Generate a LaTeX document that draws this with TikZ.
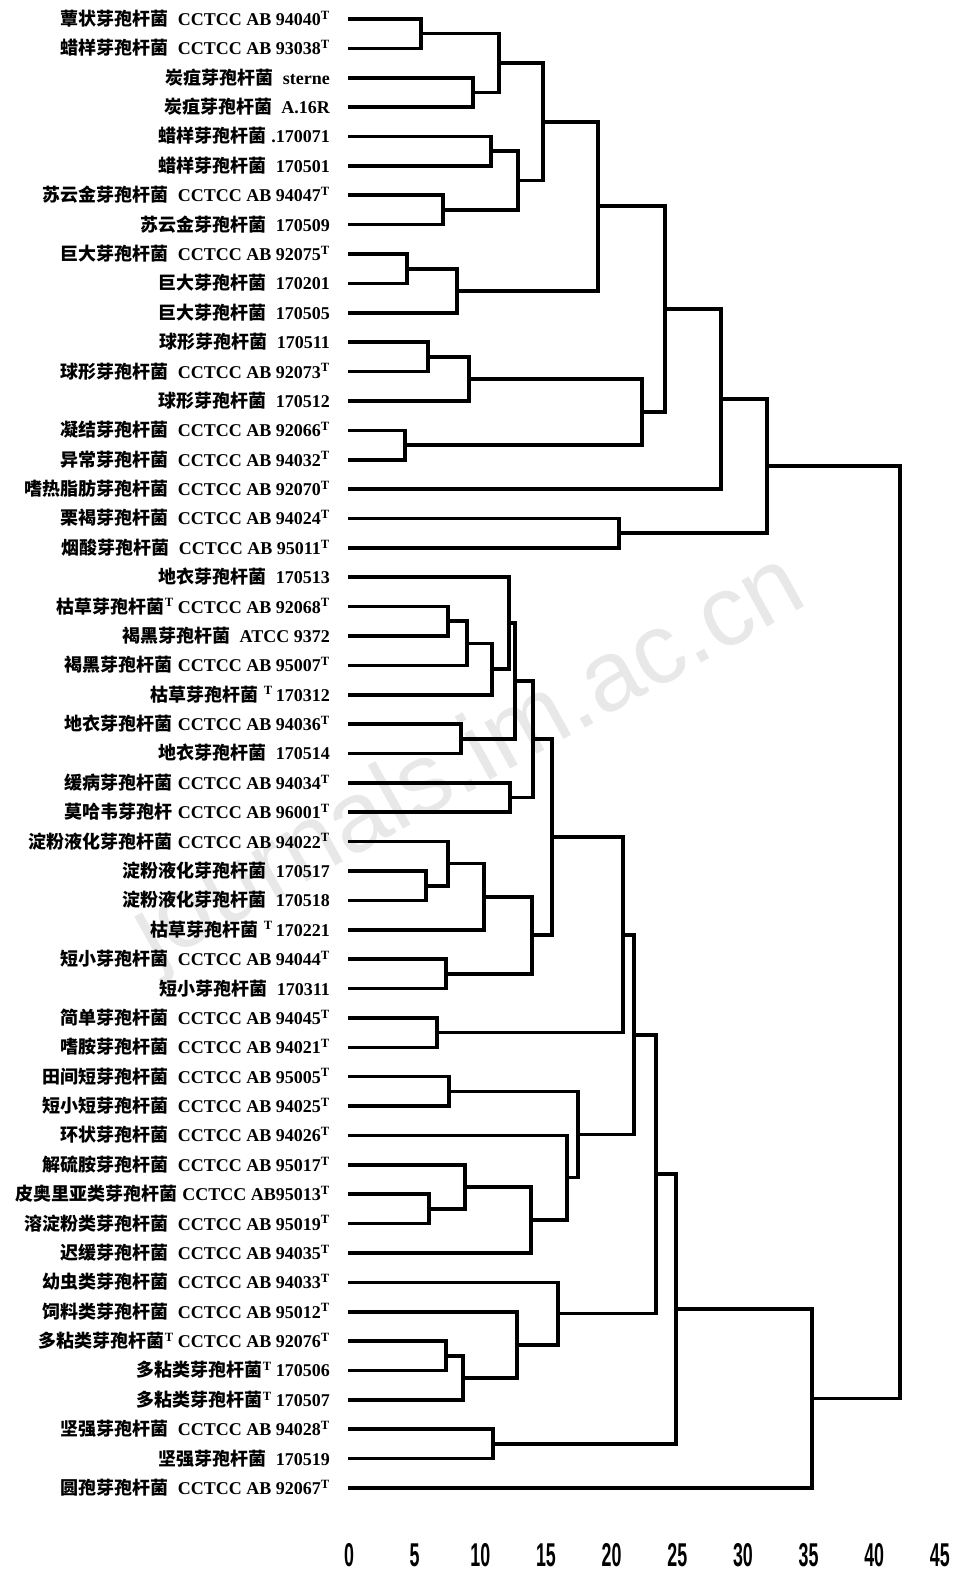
\documentclass[tikz,border=0pt]{standalone}
\usepackage{fontspec}
\usepackage{graphicx}
\setmainfont{Liberation Serif}
\setsansfont{Liberation Sans}
\newfontfamily\cjk{Noto Sans CJK SC}
\newcommand\cn[1]{{\cjk\bfseries #1}}
\newcommand\Tt{\textsuperscript{T}}
\newcommand\gp{\hspace{9pt}}
\tikzset{
  lbl/.style={anchor=base east, inner sep=0pt, font=\fontsize{18}{20}\selectfont\bfseries},
  dend/.style={line width=3.6pt, line join=miter, line cap=butt},
  ax/.style={anchor=base, inner sep=0pt, font=\sffamily\bfseries\fontsize{33}{36}\selectfont},
  wmark/.style={rotate=29, inner sep=0pt, text=black!9, font=\sffamily\fontsize{100}{104}\selectfont}
}
\newcommand\leafnode[2]{\node[lbl] (t#1) at (330,#1+0.22) {#2}; \coordinate (s#1) at (348,#1);}
\newcommand\mrg[3]{\draw[dend] (#2) -- (#2 -| #1) -- (#3 -| #1) -- (#3);}
\begin{document}
\begin{tikzpicture}[x=1pt,y=-29.38pt]
\useasboundingbox (0,0.3533) rectangle (954,53.791);
\node[wmark] (wm) at (470,26.3) {journals.im.ac.cn};
% leaves
\leafnode{1}{\cn{蕈状芽孢杆菌}\gp CCTCC AB 94040\Tt}
\leafnode{2}{\cn{蜡样芽孢杆菌}\gp CCTCC AB 93038\Tt}
\leafnode{3}{\cn{炭疽芽孢杆菌}\gp sterne}
\leafnode{4}{\cn{炭疽芽孢杆菌}\gp A.16R}
\leafnode{5}{\cn{蜡样芽孢杆菌}\hspace{5pt}.170071}
\leafnode{6}{\cn{蜡样芽孢杆菌}\gp 170501}
\leafnode{7}{\cn{苏云金芽孢杆菌}\gp CCTCC AB 94047\Tt}
\leafnode{8}{\cn{苏云金芽孢杆菌}\gp 170509}
\leafnode{9}{\cn{巨大芽孢杆菌}\gp CCTCC AB 92075\Tt}
\leafnode{10}{\cn{巨大芽孢杆菌}\gp 170201}
\leafnode{11}{\cn{巨大芽孢杆菌}\gp 170505}
\leafnode{12}{\cn{球形芽孢杆菌}\gp 170511}
\leafnode{13}{\cn{球形芽孢杆菌}\gp CCTCC AB 92073\Tt}
\leafnode{14}{\cn{球形芽孢杆菌}\gp 170512}
\leafnode{15}{\cn{凝结芽孢杆菌}\gp CCTCC AB 92066\Tt}
\leafnode{16}{\cn{异常芽孢杆菌}\gp CCTCC AB 94032\Tt}
\leafnode{17}{\cn{嗜热脂肪芽孢杆菌}\gp CCTCC AB 92070\Tt}
\leafnode{18}{\cn{栗褐芽孢杆菌}\gp CCTCC AB 94024\Tt}
\leafnode{19}{\cn{烟酸芽孢杆菌}\gp CCTCC AB 95011\Tt}
\leafnode{20}{\cn{地衣芽孢杆菌}\gp 170513}
\leafnode{21}{\cn{枯草芽孢杆菌}\Tt\hspace{4pt}CCTCC AB 92068\Tt}
\leafnode{22}{\cn{褐黑芽孢杆菌}\gp ATCC 9372}
\leafnode{23}{\cn{褐黑芽孢杆菌}\hspace{5pt}CCTCC AB 95007\Tt}
\leafnode{24}{\cn{枯草芽孢杆菌}\hspace{5pt}\Tt\hspace{3pt}170312}
\leafnode{25}{\cn{地衣芽孢杆菌}\hspace{5pt}CCTCC AB 94036\Tt}
\leafnode{26}{\cn{地衣芽孢杆菌}\gp 170514}
\leafnode{27}{\cn{缓病芽孢杆菌}\hspace{5pt}CCTCC AB 94034\Tt}
\leafnode{28}{\cn{莫哈韦芽孢杆}\hspace{5pt}CCTCC AB 96001\Tt}
\leafnode{29}{\cn{淀粉液化芽孢杆菌}\hspace{5pt}CCTCC AB 94022\Tt}
\leafnode{30}{\cn{淀粉液化芽孢杆菌}\gp 170517}
\leafnode{31}{\cn{淀粉液化芽孢杆菌}\gp 170518}
\leafnode{32}{\cn{枯草芽孢杆菌}\hspace{5pt}\Tt\hspace{3pt}170221}
\leafnode{33}{\cn{短小芽孢杆菌}\gp CCTCC AB 94044\Tt}
\leafnode{34}{\cn{短小芽孢杆菌}\gp 170311}
\leafnode{35}{\cn{简单芽孢杆菌}\gp CCTCC AB 94045\Tt}
\leafnode{36}{\cn{嗜胺芽孢杆菌}\gp CCTCC AB 94021\Tt}
\leafnode{37}{\cn{田间短芽孢杆菌}\gp CCTCC AB 95005\Tt}
\leafnode{38}{\cn{短小短芽孢杆菌}\gp CCTCC AB 94025\Tt}
\leafnode{39}{\cn{环状芽孢杆菌}\gp CCTCC AB 94026\Tt}
\leafnode{40}{\cn{解硫胺芽孢杆菌}\gp CCTCC AB 95017\Tt}
\leafnode{41}{\cn{皮奥里亚类芽孢杆菌}\hspace{5pt}CCTCC AB95013\Tt}
\leafnode{42}{\cn{溶淀粉类芽孢杆菌}\gp CCTCC AB 95019\Tt}
\leafnode{43}{\cn{迟缓芽孢杆菌}\gp CCTCC AB 94035\Tt}
\leafnode{44}{\cn{幼虫类芽孢杆菌}\gp CCTCC AB 94033\Tt}
\leafnode{45}{\cn{饲料类芽孢杆菌}\gp CCTCC AB 95012\Tt}
\leafnode{46}{\cn{多粘类芽孢杆菌}\Tt\hspace{4pt}CCTCC AB 92076\Tt}
\leafnode{47}{\cn{多粘类芽孢杆菌}\Tt\hspace{4pt}170506}
\leafnode{48}{\cn{多粘类芽孢杆菌}\Tt\hspace{4pt}170507}
\leafnode{49}{\cn{坚强芽孢杆菌}\gp CCTCC AB 94028\Tt}
\leafnode{50}{\cn{坚强芽孢杆菌}\gp 170519}
\leafnode{51}{\cn{圆孢芽孢杆菌}\gp CCTCC AB 92067\Tt}
% upper cluster
\coordinate (a12) at (421,1.5); \mrg{a12}{s1}{s2}
\coordinate (a34) at (473,3.5); \mrg{a34}{s3}{s4}
\coordinate (a14) at (499,2.5); \mrg{a14}{a12}{a34}
\coordinate (a56) at (491,5.5); \mrg{a56}{s5}{s6}
\coordinate (a78) at (443,7.5); \mrg{a78}{s7}{s8}
\coordinate (a58) at (518,6.5); \mrg{a58}{a56}{a78}
\coordinate (a18) at (543,4.5); \mrg{a18}{a14}{a58}
\coordinate (a910) at (407,9.5); \mrg{a910}{s9}{s10}
\coordinate (a911) at (457,10.25); \mrg{a911}{a910}{s11}
\coordinate (a111) at (598,7.375); \mrg{a111}{a18}{a911}
\coordinate (a1213) at (428,12.5); \mrg{a1213}{s12}{s13}
\coordinate (a1214) at (469,13.25); \mrg{a1214}{a1213}{s14}
\coordinate (a1516) at (405,15.5); \mrg{a1516}{s15}{s16}
\coordinate (a1216) at (642,14.375); \mrg{a1216}{a1214}{a1516}
\coordinate (a116) at (665,10.875); \mrg{a116}{a111}{a1216}
\coordinate (a117) at (721,13.9375); \mrg{a117}{a116}{s17}
\coordinate (a1819) at (619,18.5); \mrg{a1819}{s18}{s19}
\coordinate (a119) at (767,16.21875); \mrg{a119}{a117}{a1819}
% lower cluster
\coordinate (b2122) at (448,21.5); \mrg{b2122}{s21}{s22}
\coordinate (b2123) at (467,22.25); \mrg{b2123}{b2122}{s23}
\coordinate (b2124) at (492,23.125); \mrg{b2124}{b2123}{s24}
\coordinate (b2024) at (509,21.5625); \mrg{b2024}{s20}{b2124}
\coordinate (b2526) at (461,25.5); \mrg{b2526}{s25}{s26}
\coordinate (b2026) at (515,23.53125); \mrg{b2026}{b2024}{b2526}
\coordinate (b2728) at (510,27.5); \mrg{b2728}{s27}{s28}
\coordinate (b2028) at (533,25.515625); \mrg{b2028}{b2026}{b2728}
\coordinate (b3031) at (426,30.5); \mrg{b3031}{s30}{s31}
\coordinate (b2931) at (448,29.75); \mrg{b2931}{s29}{b3031}
\coordinate (b2932) at (484,30.875); \mrg{b2932}{b2931}{s32}
\coordinate (b3334) at (446,33.5); \mrg{b3334}{s33}{s34}
\coordinate (b2934) at (532,32.1875); \mrg{b2934}{b2932}{b3334}
\coordinate (b2034) at (552,28.8515625); \mrg{b2034}{b2028}{b2934}
\coordinate (b3536) at (437,35.5); \mrg{b3536}{s35}{s36}
\coordinate (b2036) at (623,32.17578); \mrg{b2036}{b2034}{b3536}
\coordinate (b3738) at (449,37.5); \mrg{b3738}{s37}{s38}
\coordinate (b4142) at (429,41.5); \mrg{b4142}{s41}{s42}
\coordinate (b4042) at (465,40.75); \mrg{b4042}{s40}{b4142}
\coordinate (b4043) at (531,41.875); \mrg{b4043}{b4042}{s43}
\coordinate (b3943) at (567,40.4375); \mrg{b3943}{s39}{b4043}
\coordinate (b3743) at (578,38.96875); \mrg{b3743}{b3738}{b3943}
\coordinate (b2043) at (634,35.57227); \mrg{b2043}{b2036}{b3743}
\coordinate (b4647) at (446,46.5); \mrg{b4647}{s46}{s47}
\coordinate (b4648) at (463,47.25); \mrg{b4648}{b4647}{s48}
\coordinate (b4548) at (517,46.125); \mrg{b4548}{s45}{b4648}
\coordinate (b4448) at (558,45.0625); \mrg{b4448}{s44}{b4548}
\coordinate (b2048) at (656,40.31738); \mrg{b2048}{b2043}{b4448}
\coordinate (b4950) at (493,49.5); \mrg{b4950}{s49}{s50}
\coordinate (b2050) at (676,44.90869); \mrg{b2050}{b2048}{b4950}
\coordinate (b2051) at (812,47.95435); \mrg{b2051}{b2050}{s51}
\coordinate (root) at (900,32.0866); \mrg{root}{a119}{b2051}
% axis
\foreach \v in {0,5,...,45}
  \node[ax] (ax\v) at ({349+13.13*\v},53.655) {\scalebox{0.54}[1]{\v}};
\end{tikzpicture}
\end{document}
